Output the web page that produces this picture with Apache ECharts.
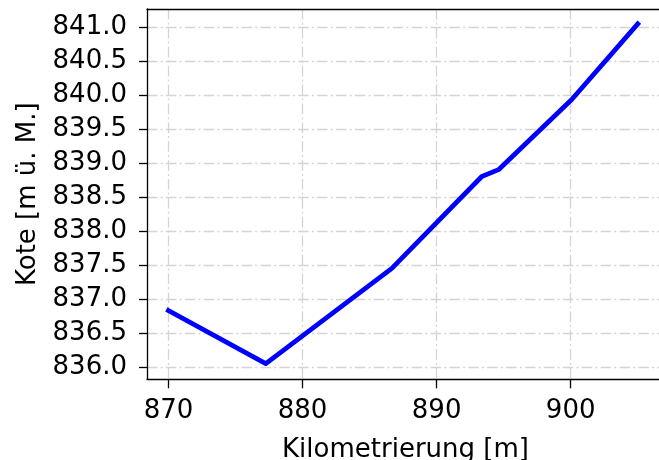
<!DOCTYPE html>
<html>
<head>
<meta charset="utf-8">
<script src="https://cdn.jsdelivr.net/npm/echarts@6/dist/echarts.min.js"></script>
<style>
html,body{margin:0;padding:0;background:#fff;}
#c{width:659px;height:460px;}
</style>
</head>
<body>
<div id="c"></div>
<script>
// Data
const km = [870, 877.26, 886.66, 893.37, 894.62, 896.0, 900.08, 905.0];
const kote = [836.84, 836.06, 837.46, 838.81, 838.91, 839.17, 839.94, 841.05];
const xTicks = [870, 880, 890, 900];
const yTicks = [836.0, 836.5, 837.0, 837.5, 838.0, 838.5, 839.0, 839.5, 840.0, 840.5, 841.0];
const xName = 'Kilometrierung [m]';
const yName = 'Kote [m ü. M.]';

const FONT = 'DejaVu Sans';
const gridLine = {show: true, lineStyle: {color: '#d4d4d4', width: 1.3, type: [10.5, 3.2, 2, 3.2]}};
const spine = {show: true, lineStyle: {color: '#000', width: 1.3}};

const chart = echarts.init(document.getElementById('c'), null, {renderer: 'canvas'});
chart.setOption({
  animation: false,
  backgroundColor: '#ffffff',
  grid: {left: 147, top: 9, width: 517, height: 370.3, show: false, outerBoundsMode: 'none', containLabel: false},
  xAxis: [{
    type: 'value', min: 868.4, max: 906.96, position: 'bottom',
    name: xName, nameLocation: 'middle', nameGap: 58,
    nameTextStyle: {fontFamily: FONT, fontSize: 26, color: '#000'},
    axisLine: spine,
    axisTick: {show: true, length: 9, inside: false, customValues: xTicks, lineStyle: {color: '#000', width: 1.3}},
    axisLabel: {customValues: xTicks, margin: 19, fontFamily: FONT, fontSize: 26, color: '#000', formatter: v => String(Math.round(v))},
    splitLine: gridLine
  }, {
    type: 'value', min: 868.4, max: 906.96, position: 'top',
    axisLine: spine, axisTick: {show: false}, axisLabel: {show: false}, splitLine: {show: false}
  }],
  yAxis: {
    type: 'value', min: 835.83, max: 841.27,
    name: yName, nameLocation: 'middle', nameGap: 106, nameRotate: 90,
    nameTextStyle: {fontFamily: FONT, fontSize: 26, color: '#000'},
    axisLine: spine,
    axisTick: {show: true, length: 8, inside: false, customValues: yTicks, lineStyle: {color: '#000', width: 1.3}},
    axisLabel: {customValues: yTicks, margin: 20, fontFamily: FONT, fontSize: 26, color: '#000', formatter: v => v.toFixed(1)},
    splitLine: gridLine
  },
  series: [{
    type: 'line',
    xAxisIndex: 0,
    data: km.map((x, i) => [x, kote[i]]),
    showSymbol: false,
    symbol: 'none',
    lineStyle: {color: '#0000ff', width: 4.8, cap: 'square', join: 'round'},
    z: 3
  }]
});
</script>
</body>
</html>
